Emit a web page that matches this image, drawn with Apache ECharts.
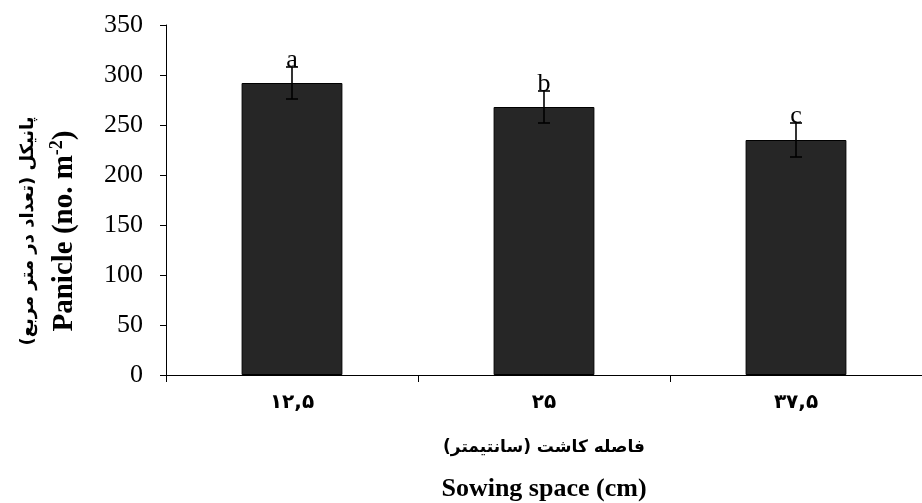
<!DOCTYPE html>
<html><head><meta charset="utf-8">
<script src="https://cdn.jsdelivr.net/npm/echarts@6/dist/echarts.min.js"></script>
<style>html,body{margin:0;padding:0;background:#fff}#c{width:922px;height:503px}</style>
</head><body><div id="c"></div>
<script>
const categories = ['۱۲,۵', '۲۵', '۳۷,۵'];
const panicle = [292, 268, 235];
const errors = [16, 16, 17];
const letters = ['a', 'b', 'c'];
const yTicks = [0, 50, 100, 150, 200, 250, 300, 350];

const serif = '"Liberation Serif", "Times New Roman", serif';
const fa = '"DejaVu Sans", sans-serif';
const chart = echarts.init(document.getElementById('c'));
chart.setOption({
  animation: false,
  backgroundColor: '#fff',
  grid: {left: 166, right: 0, top: 25, bottom: 128, containLabel: false, outerBoundsMode: 'none'},
  xAxis: {
    type: 'category', data: categories,
    axisLine: {lineStyle: {color: '#000', width: 1}},
    axisTick: {show: true, length: 7, lineStyle: {color: '#000'}},
    axisLabel: {color: '#000', fontFamily: fa, fontSize: 20, fontWeight: 'bold', margin: 18},
    name: '{fa|فاصله کاشت (سانتیمتر)}\n{en|Sowing space (cm)}',
    nameLocation: 'middle', nameGap: 58,
    nameTextStyle: {
      rich: {
        fa: {fontFamily: fa, fontSize: 17, fontWeight: 'bold', color: '#000', lineHeight: 30},
        en: {fontFamily: serif, fontSize: 26, fontWeight: 'bold', color: '#000', lineHeight: 52}
      }
    }
  },
  yAxis: {
    type: 'value', min: 0, max: 350, interval: 50,
    splitLine: {show: false},
    axisLine: {show: true, lineStyle: {color: '#000', width: 1}},
    axisTick: {show: true, length: 6, lineStyle: {color: '#000'}},
    axisLabel: {color: '#000', fontFamily: serif, fontSize: 26, margin: 23,
      formatter: v => yTicks.includes(v) ? String(v) : ''},
    name: '{fa|پانیکل (تعداد در متر مربع)}\n{en|Panicle (no. m}{sup|-2}{en|)}',
    nameLocation: 'middle', nameGap: 84, nameRotate: 90,
    nameTextStyle: {
      padding: [0, 62, 0, 0],
      rich: {
        fa: {fontFamily: fa, fontSize: 18, fontWeight: 'bold', color: '#000', lineHeight: 40},
        en: {fontFamily: serif, fontSize: 29, fontWeight: 'bold', color: '#000', lineHeight: 34},
        sup: {fontFamily: serif, fontSize: 18, fontWeight: 'bold', color: '#000', verticalAlign: 'top', lineHeight: 20}
      }
    }
  },
  series: [
    {
      type: 'bar', data: panicle, barWidth: '40%',
      itemStyle: {color: '#262626', borderColor: '#000', borderWidth: 1}
    },
    {
      type: 'custom',
      data: panicle.map((v, i) => [i, v, errors[i]]),
      renderItem: (params, api) => {
        const i = api.value(0), v = api.value(1), e = api.value(2);
        const top = api.coord([i, v + e]);
        const bot = api.coord([i, v - e]);
        const cap = 6;
        const st = {stroke: '#000', lineWidth: 1.6};
        return {
          type: 'group',
          children: [
            {type: 'line', shape: {x1: top[0], y1: top[1], x2: bot[0], y2: bot[1]}, style: st},
            {type: 'line', shape: {x1: top[0]-cap, y1: top[1], x2: top[0]+cap, y2: top[1]}, style: st},
            {type: 'line', shape: {x1: bot[0]-cap, y1: bot[1], x2: bot[0]+cap, y2: bot[1]}, style: st},
            {type: 'text', x: top[0], y: top[1] + 6, style: {text: letters[params.dataIndex], fill: '#000', font: '26px ' + serif, textAlign: 'center', textVerticalAlign: 'bottom'}}
          ]
        };
      },
      z: 10
    }
  ]
});
</script></body></html>
